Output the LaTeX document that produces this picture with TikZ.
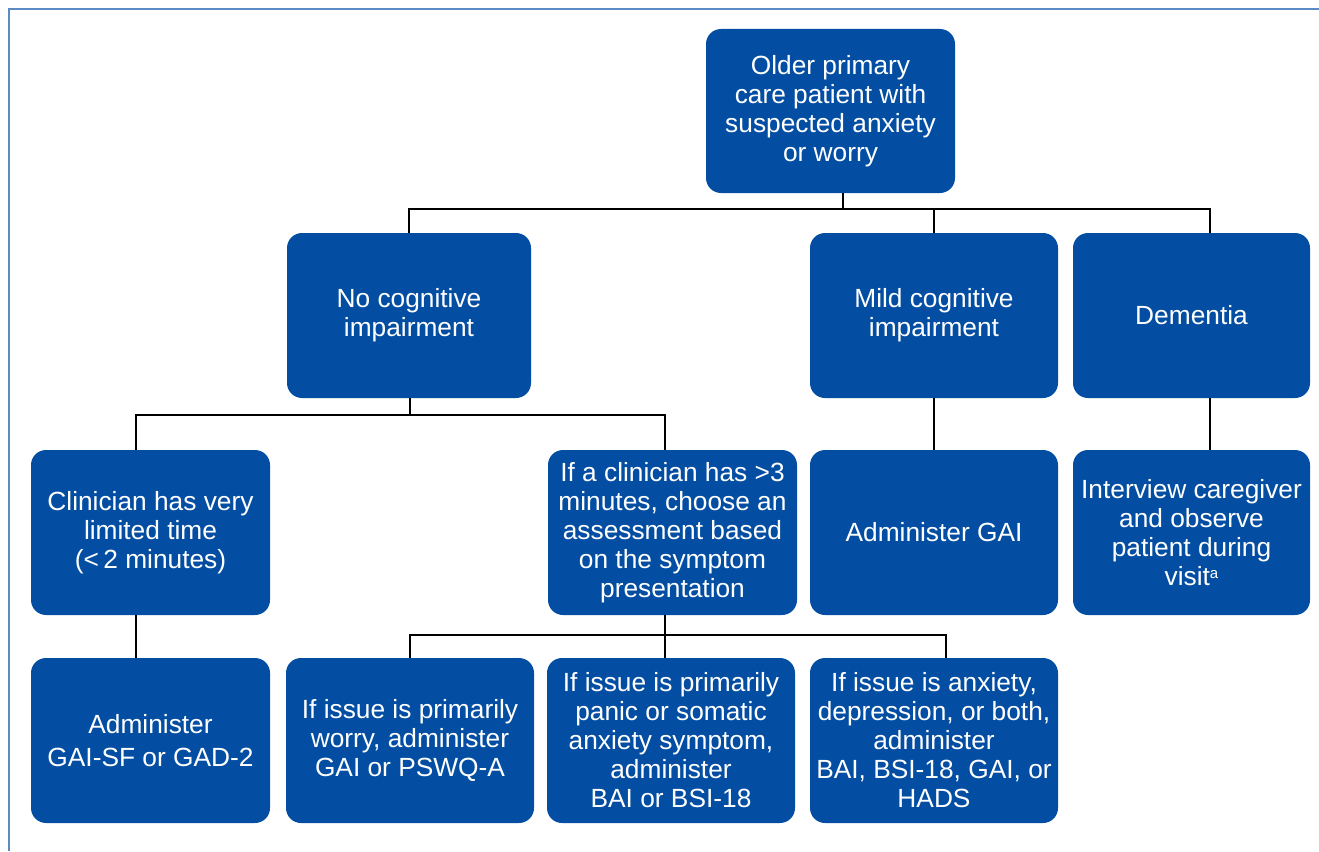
\documentclass[tikz,border=0pt]{standalone}
\usepackage{fontspec}
\setmainfont{Liberation Sans}
\definecolor{boxblue}{HTML}{034EA2}
\definecolor{framecol}{HTML}{5B8BC5}
\begin{document}
\begin{tikzpicture}[x=1pt,y=-1pt,
  box/.style={fill=boxblue, draw=none, rounded corners=15pt, text=white,
    align=center, inner sep=0pt, font=\fontsize{26.3}{29}\selectfont},
  wire/.style={line width=2pt, black}]
\useasboundingbox (0,0) rectangle (1319,851);
\draw[framecol, line width=2.5pt] (9,851) -- (9,9) -- (1319,9);
% row 0
\node[box, minimum width=249pt, minimum height=164pt] (top) at (830.5,111) {Older primary\\care patient with\\suspected anxiety\\or worry};
% row 1
\node[box, minimum width=244pt, minimum height=165pt] (nci) at (409,315.5) {No cognitive\\impairment};
\node[box, minimum width=248pt, minimum height=165pt] (mci) at (934,315.5) {Mild cognitive\\impairment};
\node[box, minimum width=237pt, minimum height=165pt] (dem) at (1191.5,315.5) {Dementia};
% row 2
\node[box, minimum width=239pt, minimum height=165pt] (lim) at (150.5,532.5) {Clinician has very\\limited time\\(<\,2 minutes)};
\node[box, minimum width=249pt, minimum height=165pt] (more) at (672.5,532.5) {If a clinician has >3\\minutes, choose an\\assessment based\\on the symptom\\presentation};
\node[box, minimum width=248pt, minimum height=165pt] (gai) at (934,532.5) {Administer GAI};
\node[box, minimum width=237pt, minimum height=165pt] (care) at (1191.5,532.5) {Interview caregiver\\and observe\\patient during\\visit{\fontsize{15}{15}\selectfont\raisebox{7pt}{a}}};
% row 3
\node[box, minimum width=239pt, minimum height=165pt] (sf) at (150.5,740.5) {Administer\\[4pt]GAI-SF or GAD-2};
\node[box, minimum width=248pt, minimum height=165pt] (worry) at (410,740.5) {If issue is primarily\\worry, administer\\GAI or PSWQ-A};
\node[box, minimum width=248pt, minimum height=165pt] (panic) at (671,740.5) {If issue is primarily\\panic or somatic\\anxiety symptom,\\administer\\BAI or BSI-18};
\node[box, minimum width=248pt, minimum height=165pt] (dep) at (934,740.5) {If issue is anxiety,\\depression, or both,\\administer\\BAI, BSI-18, GAI, or\\HADS};
% connectors
\coordinate (b1) at (843,209);
\coordinate (b2) at (410,415);
\coordinate (b3) at (665,635);
\draw[wire] (top.south -| b1) -- (b1);
\draw[wire] (b1) -| (nci.north);
\draw[wire] (b1) -| (mci.north);
\draw[wire] (b1) -| ([xshift=18.5pt]dem.north);
\draw[wire] (nci.south -| b2) -- (b2);
\draw[wire] (b2) -| ([xshift=-14.5pt]lim.north);
\draw[wire] (b2) -| ([xshift=-7.5pt]more.north);
\draw[wire] (mci.south) -- (gai.north);
\draw[wire] ([xshift=18.5pt]dem.south) -- ([xshift=18.5pt]care.north);
\draw[wire] ([xshift=-14.5pt]lim.south) -- ([xshift=-14.5pt]sf.north);
\draw[wire] (more.south -| b3) -- (b3);
\draw[wire] (b3) -| (worry.north);
\draw[wire] (b3) -- (panic.north -| b3);
\draw[wire] (b3) -| ([xshift=12pt]dep.north);
\end{tikzpicture}
\end{document}
